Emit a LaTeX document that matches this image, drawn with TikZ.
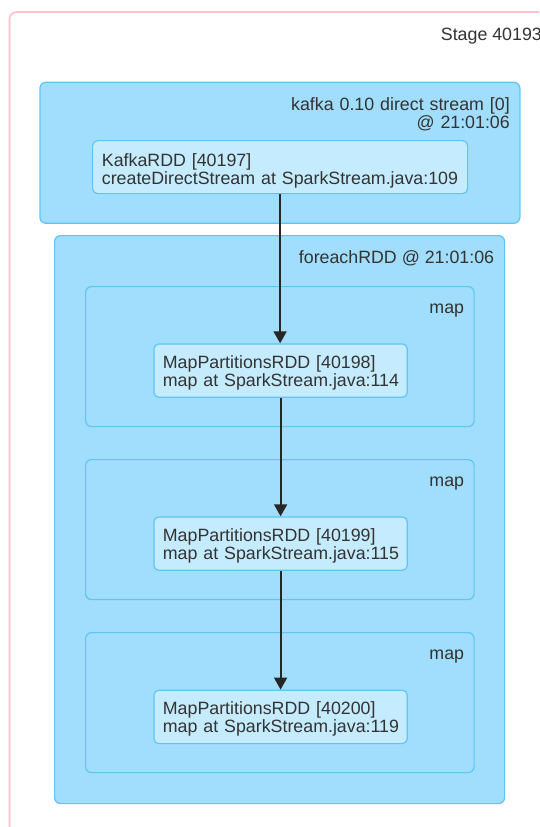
\documentclass[tikz,border=0pt]{standalone}
\usepackage{fontspec}
\setmainfont{Liberation Sans}
\usetikzlibrary{arrows.meta}
\definecolor{stagepink}{HTML}{FFBFCB}
\definecolor{clusterfill}{HTML}{A1DDFC}
\definecolor{clusterline}{HTML}{5EC6F7}
\definecolor{rddfill}{HTML}{C5EBFE}
\definecolor{rddline}{HTML}{5EC6F7}
\definecolor{labeltext}{HTML}{333333}
\tikzset{
  stagebox/.style={draw=stagepink, line width=1.6pt, rounded corners=7pt, fill=white},
  cluster/.style={draw=clusterline, line width=1.2pt, fill=clusterfill, rounded corners=6pt, anchor=north west, inner sep=0pt},
  rdd/.style={draw=rddline, line width=1.2pt, fill=rddfill, rounded corners=5pt, anchor=north west, inner sep=0pt},
  lbl/.style={text=labeltext, font=\fontsize{17.8}{18}\selectfont, inner sep=0pt},
  flow/.style={draw=black!85, line width=1.8pt, -{Triangle[width=13pt,length=12pt]}}
}
\begin{document}
\begin{tikzpicture}[x=1pt,y=-1pt]
\useasboundingbox (0,0) rectangle (539,827);
\clip (0,0) rectangle (539,827);
% stage frame, running past the page edge
\draw[stagebox] (9.5,12) rectangle (620,900);
\node[lbl, anchor=base west] (stage) at (440.7,40.4) {Stage 40193};

% kafka input stream
\node[cluster, minimum width=480pt, minimum height=141pt] (kafka) at (39.3,81.7) {};
\node[lbl, anchor=base east, align=right, text width=300pt] (kafkalbl) at (510,110.7) {kafka 0.10 direct stream [0]\\@ 21:01:06};
\node[rdd, minimum width=375pt, minimum height=53pt] (k) at (92,140) {};
\node[lbl, anchor=base west, align=left, text width=370pt] (ktxt) at (101.7,166) {KafkaRDD [40197]\\createDirectStream at SparkStream.java:109};

% foreachRDD scope
\node[cluster, minimum width=450pt, minimum height=568pt] (fe) at (54,235) {};
\node[lbl, anchor=base east] (felbl) at (494.3,263) {foreachRDD @ 21:01:06};

% map scopes
\node[cluster, minimum width=388.5pt, minimum height=140pt] (map1) at (85,286) {};
\node[lbl, anchor=base east] (map1lbl) at (464.3,313) {map};
\node[rdd, minimum width=253.4pt, minimum height=53.4pt] (m1) at (153.3,343.3) {};
\node[lbl, anchor=base west, align=left, text width=240pt] (m1txt) at (162.7,368) {MapPartitionsRDD [40198]\\map at SparkStream.java:114};

\node[cluster, minimum width=388.5pt, minimum height=140pt] (map2) at (85,459) {};
\node[lbl, anchor=base east] (map2lbl) at (464.3,486) {map};
\node[rdd, minimum width=253.4pt, minimum height=53.4pt] (m2) at (153.3,516.3) {};
\node[lbl, anchor=base west, align=left, text width=240pt] (m2txt) at (162.7,541) {MapPartitionsRDD [40199]\\map at SparkStream.java:115};

\node[cluster, minimum width=388.5pt, minimum height=140pt] (map3) at (85,632) {};
\node[lbl, anchor=base east] (map3lbl) at (464.3,659) {map};
\node[rdd, minimum width=253.4pt, minimum height=53.4pt] (m3) at (153.3,689.6) {};
\node[lbl, anchor=base west, align=left, text width=240pt] (m3txt) at (162.7,714.3) {MapPartitionsRDD [40200]\\map at SparkStream.java:119};

% dependencies
\draw[flow] (k.south) -- (k.south |- m1.north);
\draw[flow] (m1.south) -- (m2.north);
\draw[flow] (m2.south) -- (m3.north);
\end{tikzpicture}
\end{document}
